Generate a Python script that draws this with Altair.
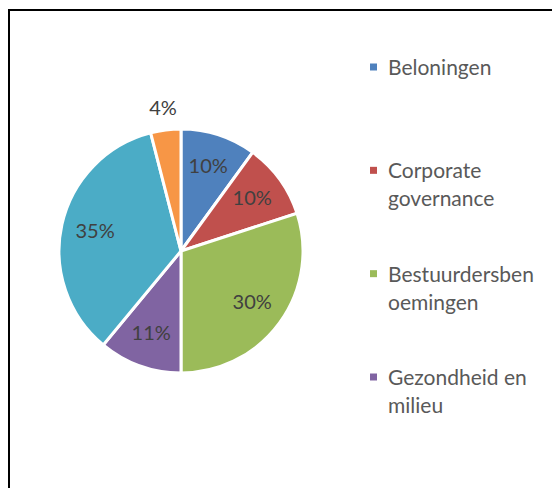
import altair as alt
import pandas as pd

# ---- data ----
categories = ["Beloningen", "Corporate governance", "Bestuurdersbenoemingen",
              "Gezondheid en milieu", "Sociale kwesties", "Overig"]
shares = [10, 10, 30, 11, 35, 4]
colors = ["#4F81BD", "#C0504D", "#9BBB59", "#8064A2", "#4BACC6", "#F79646"]
legend_labels = ["Beloningen", "Corporate\ngovernance",
                 "Bestuurdersben\noemingen", "Gezondheid en\nmilieu"]

pie_df = pd.DataFrame({"category": categories, "share": shares,
                       "order": list(range(len(categories)))})
legend_df = pd.DataFrame({"category": categories[:4], "label": legend_labels,
                          "order": list(range(4))})
frame_df = pd.DataFrame({"k": [0]})

W, H = 544, 480
CX, CY = 173, 243
FONT = "Lato"

color = alt.Color("category:N", scale=alt.Scale(domain=categories, range=colors), legend=None)

base = alt.Chart(pie_df).encode(
    theta=alt.Theta("share:Q", stack=True),
    order=alt.Order("order:Q"),
    color=color,
)

pie = base.mark_arc(outerRadius=122, stroke="white", strokeWidth=3).encode(
    x=alt.value(CX), y=alt.value(CY)
)

# small slices get their label outside the pie, the others inside
labels = base.mark_text(
    font=FONT, fontSize=20,
    radius=alt.expr("datum.share < 5 ? 143 : 88"),
).encode(
    x=alt.value(CX), y=alt.value(CY),
    text=alt.Text("label:N"),
    color=alt.value("#404040"),
).transform_calculate(
    label="datum.share + '%'",
)

leg_y = alt.Y("order:O", axis=None,
              scale=alt.Scale(type="point", range=[59, 369], padding=0))

leg_sym = alt.Chart(legend_df).mark_square(size=49, opacity=1, filled=True).encode(
    x=alt.value(365.5), y=leg_y, color=color
)
leg_txt = alt.Chart(legend_df).mark_text(
    align="left", baseline="alphabetic", dy=8, lineBreak="\n", lineHeight=28,
    fontSize=21, font=FONT, color="#595959"
).encode(x=alt.value(380), y=leg_y, text="label:N")

frame_left = alt.Chart(frame_df).mark_rule(color="black", strokeWidth=2).encode(
    x=alt.value(1), y=alt.value(2), y2=alt.value(H)
)
frame_top = alt.Chart(frame_df).mark_rule(color="black", strokeWidth=2).encode(
    x=alt.value(0), x2=alt.value(W), y=alt.value(2)
)

chart = alt.layer(frame_left, frame_top, pie, labels, leg_sym, leg_txt).properties(
    width=W, height=H, padding=0, autosize="none", background="white"
).configure_view(stroke=None)

chart.save("out.html", embed_options={"renderer": "svg", "actions": False})
